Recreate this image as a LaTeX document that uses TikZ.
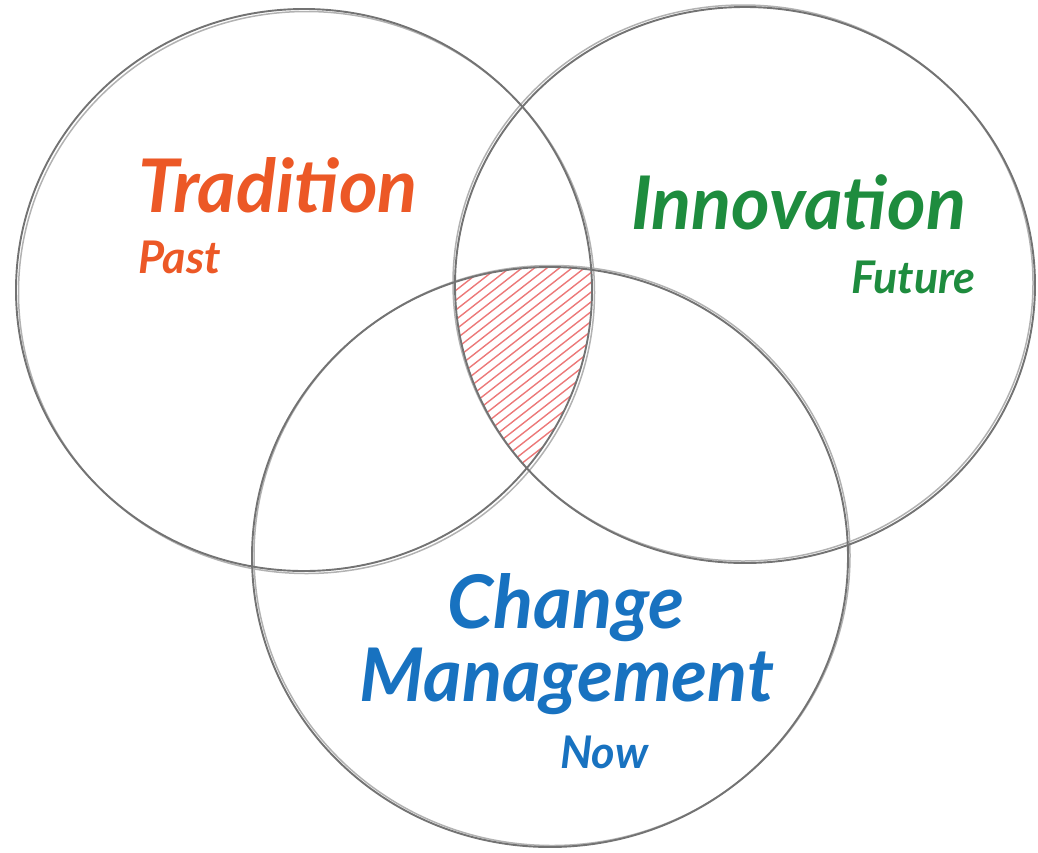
\documentclass[tikz,border=0pt]{standalone}
\usepackage{fontspec}
\setmainfont{Lato}
\usepackage{tikz}
\def\pastcircle{(304,-290) ellipse (288 and 281)}
\def\futurecircle{(745,-285) ellipse (290 and 278)}
\def\nowcircle{(550,-557) ellipse (298 and 290)}
\colorlet{circle edge}{black!55}
\colorlet{circle sketch}{black!30}
\definecolor{past}{RGB}{236,88,38}
\definecolor{future}{RGB}{30,140,62}
\definecolor{now}{RGB}{24,114,192}
\definecolor{hatch}{RGB}{236,120,120}
\tikzset{outline/.style={draw=circle edge, line width=1.9pt},
	sketch/.style={draw=circle sketch, line width=1.5pt},
	hatchline/.style={draw=hatch, line width=1.4pt, line cap=round},
	bigword/.style={font=\bfseries\itshape\fontsize{74}{78}\selectfont, inner sep=0pt},
	smallword/.style={font=\bfseries\itshape\fontsize{45}{48}\selectfont, inner sep=0pt}}

\begin{document}
\begin{tikzpicture}[x=1pt,y=1pt]
		\useasboundingbox (0,0) rectangle (1038,-852);
		\begin{scope}
		\clip \pastcircle;
		\clip \futurecircle;
		\clip \nowcircle;
		\foreach \k in {0,...,34}
			\draw[hatchline] (150+\k*12.5,-500) -- ++(38:420);
		\end{scope}
		\draw[sketch, shift={(2.5,-2.5)}] \pastcircle;
		\draw[sketch, shift={(-2,2)}] \futurecircle;
		\draw[sketch, shift={(2,1.5)}] \nowcircle;
		\draw[outline] \pastcircle;
		\draw[outline] \futurecircle;
		\draw[outline] \nowcircle;
		
		\node[bigword, text=past, anchor=base west] (tradition) at (138,-212) {Tradition};
		\node[smallword, text=past, anchor=base west] (past) at (138,-273) {Past};
		\node[bigword, text=future, anchor=base west] (innovation) at (631,-229) {Innovation};
		\node[smallword, text=future, anchor=base west] (futurelabel) at (851,-293) {Future};
		\node[bigword, text=now, anchor=base] (change) at (566,-628) {Change};
		\node[bigword, text=now, anchor=base] (management) at (567,-701) {Management};
		\node[smallword, text=now, anchor=base west] (nowlabel) at (560,-768) {Now};
		
		\end{tikzpicture}
\end{document}
